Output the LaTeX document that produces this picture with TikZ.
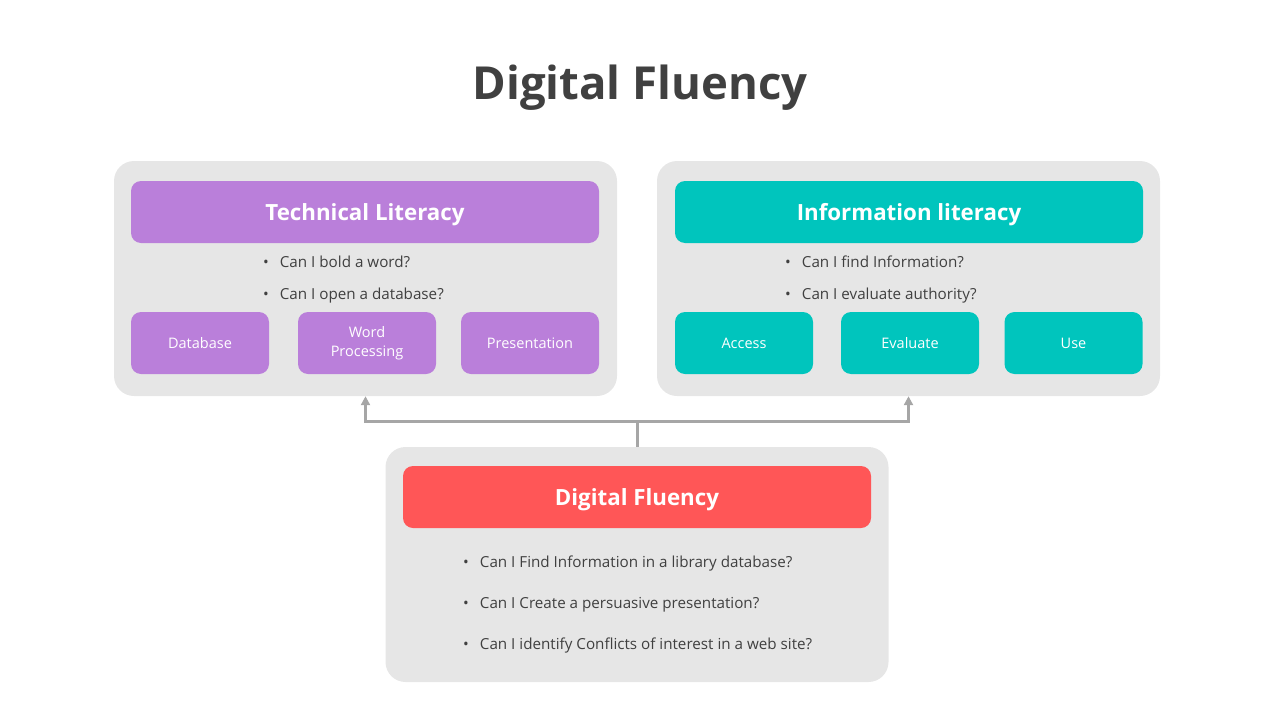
\documentclass[tikz,border=0pt]{standalone}
\usepackage{fontspec}
\setmainfont{Open Sans}
\usepackage{tikz}
\usetikzlibrary{positioning,arrows.meta}
\usepackage{xcolor}
\definecolor{panelgray}{HTML}{E6E6E6}
\definecolor{techpurple}{HTML}{BA7FDA}
\definecolor{infoteal}{HTML}{00C5BD}
\definecolor{fluencyred}{HTML}{FF5657}
\definecolor{titlegray}{HTML}{404040}
\definecolor{linegray}{HTML}{A6A6A6}

\begin{document}
\begin{tikzpicture}[x=1pt,y=-1pt,>={Triangle[length=9pt,width=9pt]},
  panel/.style={fill=panelgray,rounded corners=20pt,minimum width=503pt,minimum height=235pt,inner sep=0pt},
  head/.style={fill=#1,rounded corners=10pt,minimum width=468pt,minimum height=62pt,inner sep=0pt,text=white,text height=16pt,text depth=0pt,font=\bfseries\fontsize{22.3}{27}\selectfont},
  tile/.style={fill=#1,rounded corners=10pt,minimum width=138pt,minimum height=62pt,inner sep=0pt,text=white,align=center,font=\fontsize{14.5}{19}\selectfont},
  ask/.style={anchor=west,inner sep=0pt,text=titlegray,text height=11pt,text depth=0pt,font=\fontsize{15.2}{18}\selectfont},
  conn/.style={draw=linegray,line width=3pt,->}]
\useasboundingbox (0,0) rectangle (1280,720);
\node[text=titlegray,text height=33pt,text depth=0pt,font=\bfseries\fontsize{45.5}{54}\selectfont] (title) at (640,83) {Digital Fluency};
% upper panels
\node[panel] (techpanel) at (365.5,278.5) {};
\node[panel] (infopanel) at (908.5,278.5) {};
\node[head=techpurple] (techhead) at (365,212) {Technical Literacy};
\node[head=infoteal] (infohead) at (909,212) {Information literacy};
\node[ask] (techq1) at (263,262) {•\hskip 11pt Can I bold a word?};
\node[ask] (techq2) at (263,294) {•\hskip 11pt Can I open a database?};
\node[ask] (infoq1) at (785,262) {•\hskip 11pt Can I find Information?};
\node[ask] (infoq2) at (785,294) {•\hskip 11pt Can I evaluate authority?};
\node[tile=techpurple] (database) at (200,343) {Database};
\node[tile=techpurple] (wordproc) at (367,343) {Word\\Processing};
\node[tile=techpurple] (present) at (530,343) {Presentation};
\node[tile=infoteal] (access) at (744,343) {Access};
\node[tile=infoteal] (evaluate) at (910,343) {Evaluate};
\node[tile=infoteal] (use) at (1073.5,343) {Use};
% lower panel
\node[panel] (dfpanel) at (637,564.5) {};
\node[head=fluencyred] (dfhead) at (637,497) {Digital Fluency};
\node[ask] (dfq1) at (463,562) {•\hskip 11pt Can I Find Information in a library database?};
\node[ask] (dfq2) at (463,603) {•\hskip 11pt Can I Create a persuasive presentation?};
\node[ask] (dfq3) at (463,644) {•\hskip 11pt Can I identify Conflicts of interest in a web site?};
\draw[conn] (dfpanel.north) -- ++(0,-25) -| (techpanel.south);
\draw[conn] (dfpanel.north) -- ++(0,-25) -| (infopanel.south);
\end{tikzpicture}
\end{document}
